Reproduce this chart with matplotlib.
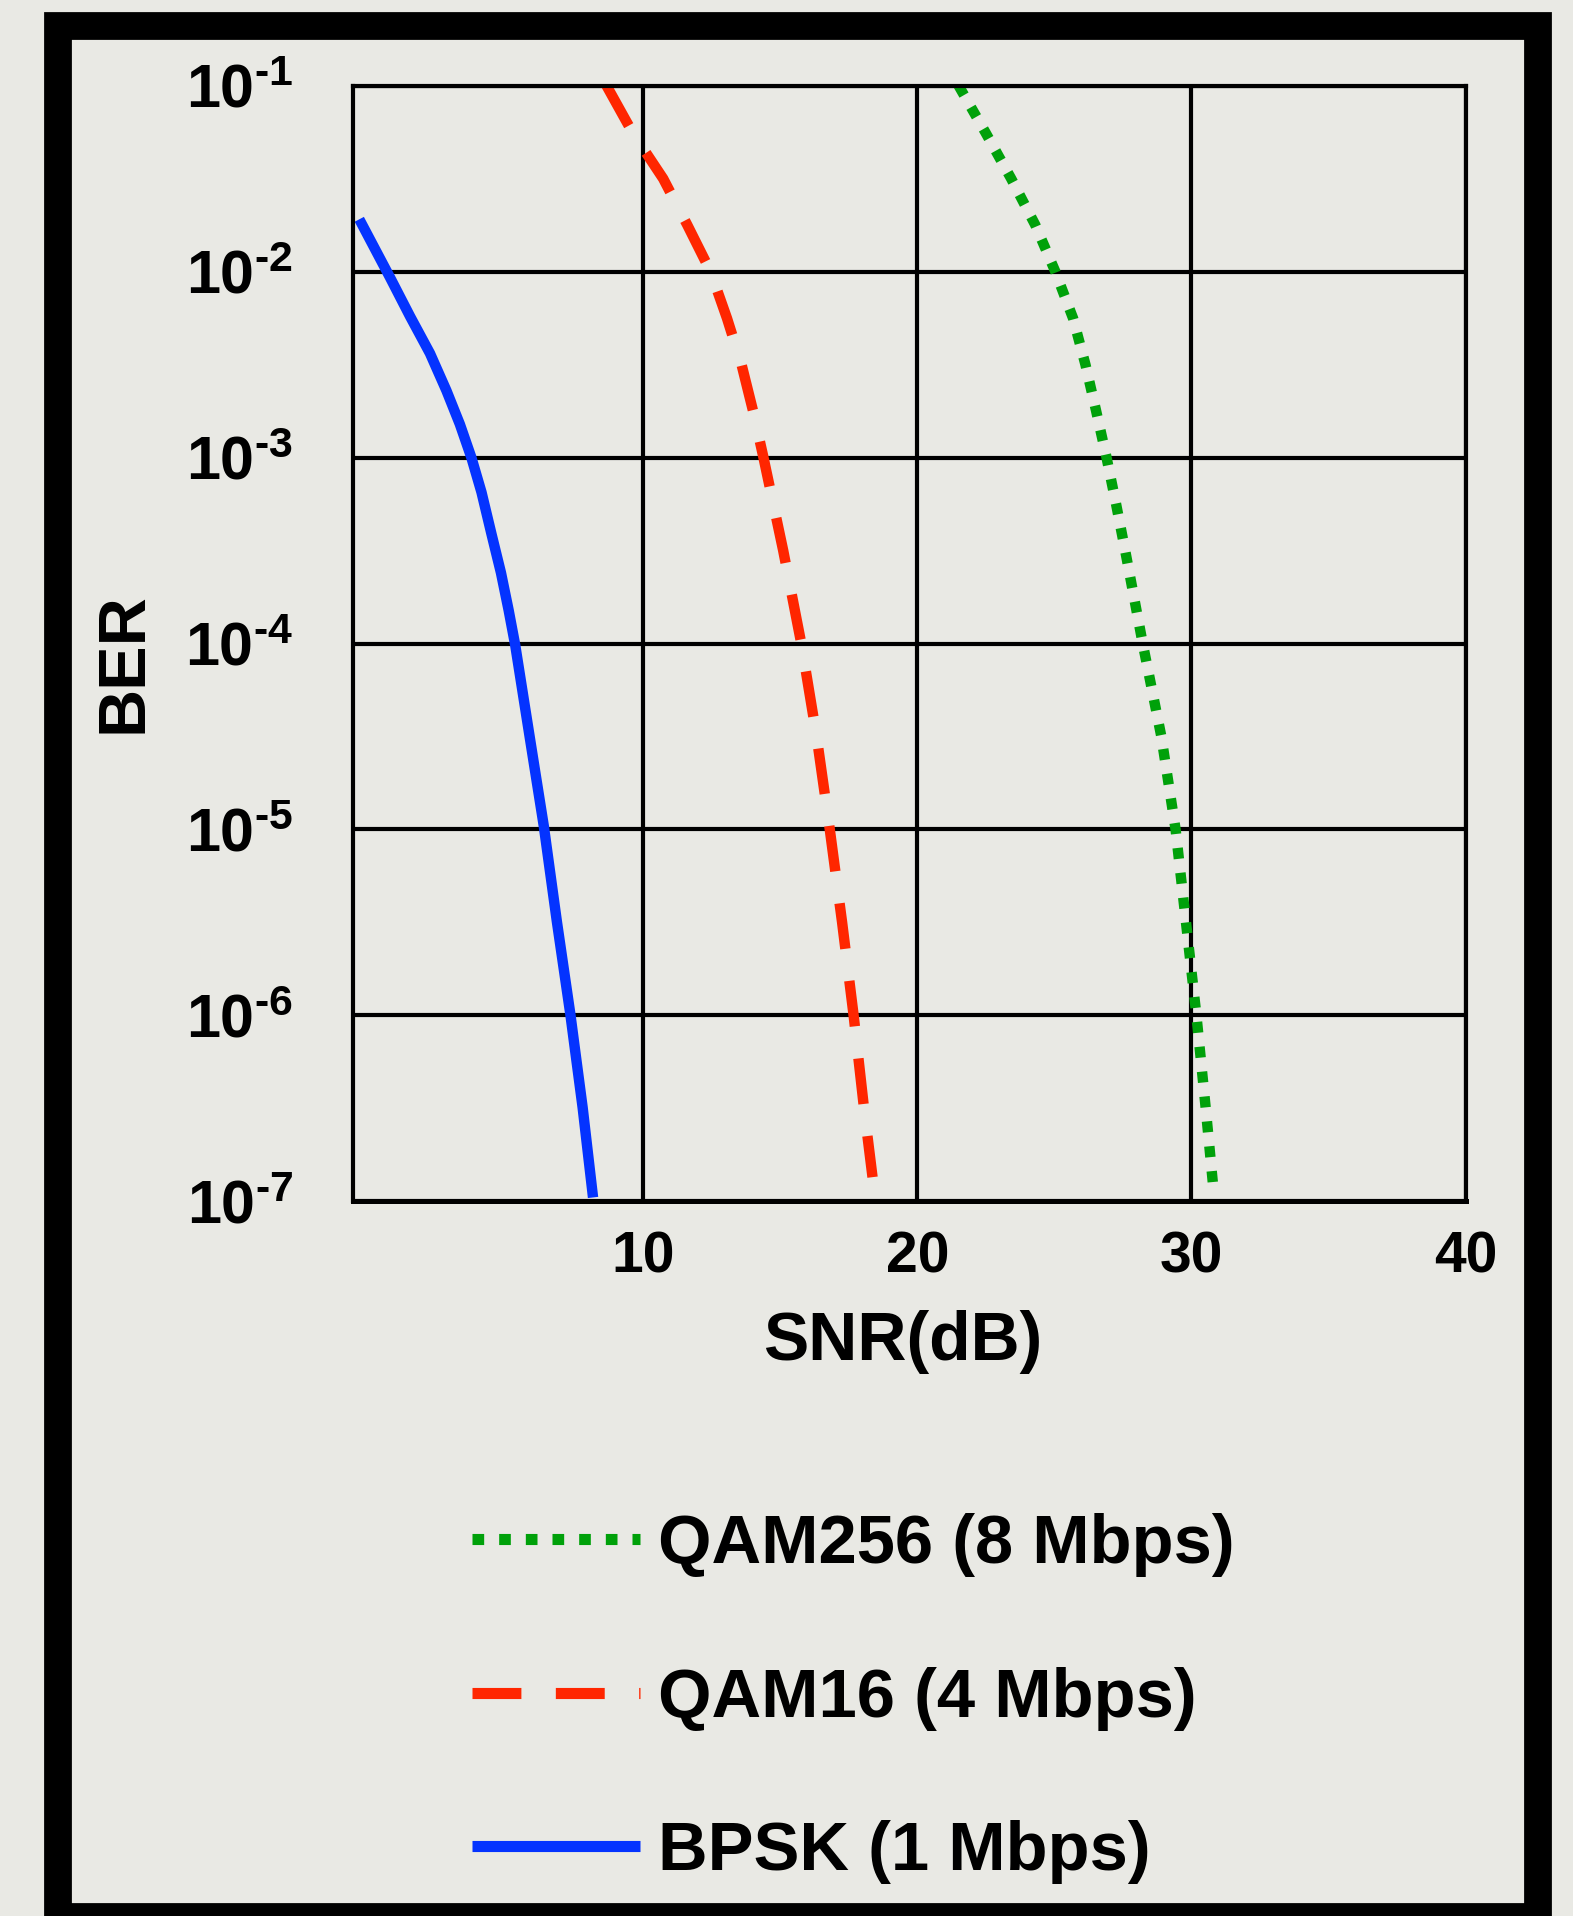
"""
BER vs SNR for three modulations, drawn in a framed paper look.
"""

import numpy as np
import matplotlib
matplotlib.use('Agg')
import matplotlib.pyplot as plt
from matplotlib.patches import Rectangle

# values (SNR in dB, BER)
snr_bpsk = [-0.37, 0.75, 1.48, 2.21, 2.81, 3.30, 3.72, 4.09, 4.45, 4.80, 5.08, 5.32,
            5.84, 6.36, 6.84, 7.33, 7.78, 8.16]
ber_bpsk = [1.91e-2, 9.3e-3, 5.75e-3, 3.63e-3, 2.29e-3, 1.51e-3, 1.0e-3, 6.5e-4, 3.9e-4,
            2.4e-4, 1.51e-4, 9.8e-5, 3.2e-5, 1.05e-5, 3.2e-6, 1.02e-6, 3.2e-7, 1.05e-7]

snr_qam16 = [8.65, 9.6, 10.72, 11.6, 12.45, 13.05, 13.58, 14.0, 14.38, 15.1, 15.76,
             16.32, 16.8, 17.25, 17.67, 18.05, 18.36]
ber_qam16 = [1.0e-1, 5.6e-2, 3.16e-2, 1.78e-2, 1.0e-2, 5.6e-3, 3.16e-3, 1.78e-3, 1.0e-3,
             3.16e-4, 1.0e-4, 3.16e-5, 1.0e-5, 3.16e-6, 1.0e-6, 3.16e-7, 1.35e-7]

snr_qam256 = [21.5, 22.48, 23.42, 24.3, 25.03, 25.68, 26.13, 26.52, 26.9, 27.25, 27.58,
              27.9, 28.22, 28.9, 29.42, 29.8, 30.18, 30.52, 30.8]
ber_qam256 = [1.0e-1, 5.6e-2, 3.16e-2, 1.78e-2, 1.0e-2, 5.6e-3, 3.16e-3, 1.78e-3, 1.0e-3,
              5.6e-4, 3.16e-4, 1.78e-4, 1.0e-4, 3.16e-5, 1.0e-5, 3.16e-6, 1.0e-6, 3.16e-7,
              1.17e-7]

labels = ['QAM256 (8 Mbps)', 'QAM16 (4 Mbps)', 'BPSK (1 Mbps)']
xticks = [10, 20, 30, 40]
yexps = [-7, -6, -5, -4, -3, -2, -1]

paper = '#e9e9e4'

plt.rcParams['font.family'] = ['Liberation Sans', 'DejaVu Sans']
plt.rcParams['font.weight'] = 'bold'
plt.rcParams['mathtext.fontset'] = 'custom'
plt.rcParams['mathtext.rm'] = 'Liberation Sans:bold'
plt.rcParams['mathtext.it'] = 'Liberation Sans:bold'
plt.rcParams['mathtext.bf'] = 'Liberation Sans:bold'

W, H = 1573, 1916
fig = plt.figure(figsize=(W / 100, H / 100), dpi=100, facecolor=paper)

# black picture frame
fig.patches.append(Rectangle((57.5 / W, 1 - 1917 / H), (1538 - 57.5) / W, (1917 - 26) / H,
                             transform=fig.transFigure, fill=False, edgecolor='black',
                             linewidth=20, joinstyle='miter'))

ax = fig.add_axes([353 / W, 1 - 1201.4 / H, (1465.5 - 353) / W, (1201.4 - 85.6) / H])
ax.set_facecolor(paper)

lw = 7.5
l3, = ax.plot(snr_qam256, ber_qam256, color='#00a10a', lw=lw, dashes=(1.05, 1.35),
              dash_capstyle='butt')
l2, = ax.plot(snr_qam16, ber_qam16, color='#ff2600', lw=lw, dashes=(4.4, 3.1),
              dash_capstyle='butt')
l1, = ax.plot(snr_bpsk, ber_bpsk, color='#0433ff', lw=lw, solid_capstyle='butt')

ax.set_yscale('log')
ax.set_xlim(-0.6, 40)
ax.set_ylim(1e-7, 1e-1)

ax.set_xticks(xticks)
ax.set_xticklabels([str(t) for t in xticks], fontsize=41, fontweight='bold')
ax.set_yticks([10.0 ** e for e in yexps])
ax.set_yticklabels([r'$10^{\text{-%d}}$' % -e for e in yexps], fontsize=44)
ax.yaxis.set_minor_locator(matplotlib.ticker.NullLocator())
ax.tick_params(axis='both', which='both', length=0)
ax.tick_params(axis='x', pad=21)
ax.tick_params(axis='y', pad=43)

ax.grid(True, color='black', linewidth=3)
for s in ax.spines.values():
    s.set_linewidth(3)
    s.set_color('black')
ax.spines['bottom'].set_linewidth(3.6)

ax.set_xlabel('SNR(dB)', fontsize=49, fontweight='bold')
ax.xaxis.label.set_va('baseline')
ax.xaxis.set_label_coords(0.494, -0.1421)

ax.set_ylabel('BER', fontsize=48, fontweight='bold')
ax.yaxis.label.set_va('center')
ax.yaxis.set_label_coords(-0.205, 0.4825)

leg = fig.legend([l3, l2, l1], labels, loc='upper left',
                 bbox_to_anchor=(472 / W, 1 - 1513 / H), bbox_transform=fig.transFigure,
                 frameon=False, fontsize=49.5, handlelength=2.45, handletextpad=0.25,
                 labelspacing=1.305, borderpad=0, borderaxespad=0)
for t in leg.get_texts():
    t.set_fontweight('bold')
for ln in leg.get_lines():
    ln.set_linewidth(8)

fig.savefig('out.png', dpi=100, facecolor=paper)
